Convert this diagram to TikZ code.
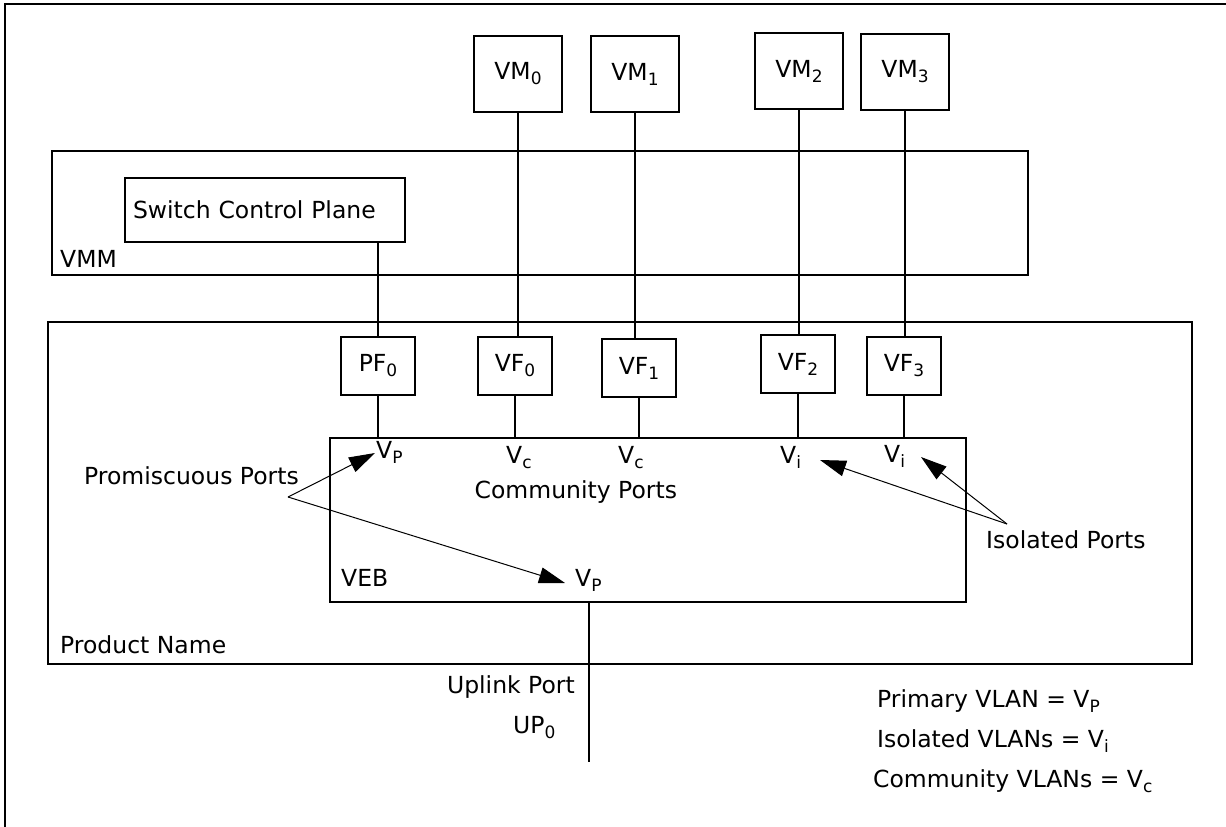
\documentclass[tikz,border=0pt]{standalone}
\usepackage{fontspec}
\setmainfont{DejaVu Sans}
\usetikzlibrary{positioning,arrows.meta}
\newcommand{\idx}[1]{\raisebox{-5pt}{\fontsize{17}{17}\selectfont #1}}

\begin{document}
\begin{tikzpicture}[x=1pt,y=-1pt,font=\fontsize{23.5}{28}\selectfont,
  box/.style={draw,line width=2pt,inner sep=0pt},
  vmbox/.style={box,minimum width=88pt,minimum height=76pt},
  fnbox/.style={box,minimum width=74pt,minimum height=58pt},
  wire/.style={line width=2pt},
  callout/.style={line width=1pt,-{Triangle[length=26pt,width=16pt]}},
  txt/.style={inner sep=0pt}]
\useasboundingbox (0,0) rectangle (1226,827);
\draw[wire] (1226,4) -- (5,4) -- (5,827);
% containers
\node[box,minimum width=976pt,minimum height=124pt] (vmm) at (540,213) {};
\node[box,minimum width=1144pt,minimum height=342pt] (prod) at (620,493) {};
\node[box,minimum width=636pt,minimum height=164pt] (veb) at (648,520) {};
\node[txt,anchor=base west] (vmmlbl) at (60,267) {VMM};
\node[txt,anchor=base west] (prodlbl) at (60,653) {Product Name};
\node[txt,anchor=base west] (veblbl) at (341,586) {VEB};
% VMs and functions
\node[box,minimum width=280pt,minimum height=64pt,text width=264pt,inner xsep=8pt,align=left] (scp) at (265,210) {Switch Control Plane};
\node[vmbox] (vm0) at (518,74) {VM\idx{0}};
\node[vmbox] (vm1) at (635,74) {VM\idx{1}};
\node[vmbox] (vm2) at (799,71) {VM\idx{2}};
\node[vmbox] (vm3) at (905,72) {VM\idx{3}};
\node[fnbox] (pf0) at (378,366) {PF\idx{0}};
\node[fnbox] (vf0) at (515,366) {VF\idx{0}};
\node[fnbox] (vf1) at (639,368) {VF\idx{1}};
\node[fnbox] (vf2) at (798,364) {VF\idx{2}};
\node[fnbox] (vf3) at (904,366) {VF\idx{3}};
\draw[wire] (pf0.north) -- (pf0.north |- scp.south);
\foreach \i in {0,1,2,3}
  \draw[wire] (vm\i.south) -- (vm\i.south |- vf\i.north);
\foreach \f in {pf0,vf0,vf1,vf2,vf3}
  \draw[wire] (\f.south) -- (\f.south |- veb.north);
% port VLANs
\node[txt,anchor=base west] (vp0) at (376,458) {V\idx{P}};
\node[txt,anchor=base west] (vc0) at (506,463) {V\idx{c}};
\node[txt,anchor=base west] (vc1) at (618,463) {V\idx{c}};
\node[txt,anchor=base west] (vi0) at (780,463) {V\idx{i}};
\node[txt,anchor=base west] (vi1) at (884,462) {V\idx{i}};
\node[txt,anchor=base west] (vpup) at (575,586) {V\idx{P}};
\node[txt,anchor=base west] (commlbl) at (474.5,498) {Community Ports};
\node[txt,anchor=base west] (promlbl) at (84,484) {Promiscuous Ports};
\node[txt,anchor=base west] (isolbl) at (986,548) {Isolated Ports};
\coordinate (promfork) at (288,497);
\coordinate (isofork) at (1007,524);
\draw[callout] (promfork) -- (375,453);
\draw[callout] (promfork) -- (565,583);
\draw[callout] (isofork) -- (820,460);
\draw[callout] (isofork) -- (921,457);
% uplink
\coordinate (upend) at (589,762);
\draw[wire] (veb.south -| upend) -- (upend);
\node[txt,anchor=base east] (uplbl) at (575,693) {Uplink Port};
\node[txt,anchor=base west] (up0) at (513,733) {UP\idx{0}};
% legend
\node[txt,anchor=base west] (leg1) at (877,707) {Primary VLAN = V\idx{P}};
\node[txt,anchor=base west] (leg2) at (877,747) {Isolated VLANs = V\idx{i}};
\node[txt,anchor=base west] (leg3) at (873,787) {Community VLANs = V\idx{c}};
\end{tikzpicture}
\end{document}
